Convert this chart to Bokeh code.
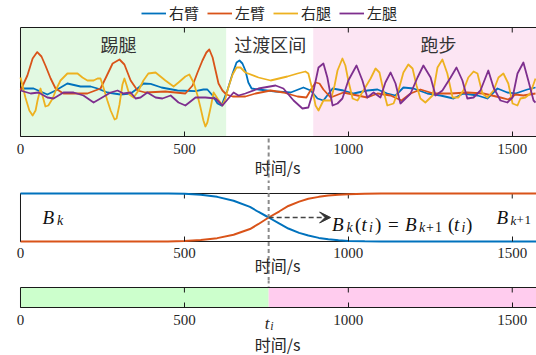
from bokeh.plotting import figure
from bokeh.models import Range1d, FixedTicker, Legend, LegendItem, Arrow, VeeHead
from bokeh.layouts import column
from bokeh.core.properties import value
from bokeh.embed import file_html
from bokeh.resources import INLINE

# ---------------- data ----------------
x_ticks = [0, 500, 1000, 1500]
x_max = 1574
t_switch = 757

series_names = ["右臂", "左臂", "右腿", "左腿"]
series_colors = ["#0072BD", "#D95319", "#EDB120", "#7E2F8E"]

right_arm_t = [0, 6, 40, 61, 82, 107, 143, 183, 214, 235, 265, 305, 336, 357, 375, 397, 430, 479, 534, 558,
               570, 586, 601, 613, 631, 647, 659, 668, 677, 686, 695, 705, 726, 778, 824, 863, 885, 906, 924,
               952, 985, 1016, 1058, 1089, 1119, 1144, 1168, 1199, 1241, 1281, 1321, 1351, 1394, 1424, 1455,
               1485, 1510, 1546, 1571]
right_arm_v = [0.09, 0.15, 0.15, 0.0, -0.15, 0.05, 0.4, 0.25, 0.25, 0.15, -0.05, -0.15, -0.1, 0.15, 0.4, 0.38,
               0.2, 0.05, 0.02, 0.1, 0.1, -0.2, -0.6, -0.7, 0.05, 0.9, 1.45, 1.55, 1.4, 1.05, 0.45, 0.15, 0.1,
               0.0, -0.05, 0.2, 0.05, -0.35, -0.45, 0.15, 0.05, -0.1, 0.05, 0.1, -0.1, -0.2, 0.2, 0.15, -0.1,
               -0.2, -0.35, -0.1, -0.2, -0.35, 0.15, -0.05, -0.1, 0.1, 0.2]

left_arm_t = [0, 21, 37, 51, 64, 76, 92, 107, 131, 204, 244, 262, 281, 302, 317, 336, 357, 381, 442, 503, 525,
              540, 555, 567, 576, 586, 595, 604, 616, 628, 647, 686, 717, 763, 802, 845, 872, 888, 900, 912,
              924, 946, 985, 1028, 1058, 1089, 1129, 1162, 1190, 1220, 1260, 1312, 1363, 1412, 1464, 1488,
              1510, 1534, 1571]
left_arm_v = [0.05, 0.8, 1.65, 1.97, 1.75, 1.3, 0.65, 0.15, -0.1, -0.1, 0.15, 0.75, 1.4, 1.6, 1.35, 0.55, 0.05,
              -0.05, 0.0, -0.1, 0.3, 0.95, 1.55, 1.95, 2.1, 1.7, 1.05, 0.4, 0.05, -0.15, -0.25, -0.25, -0.1,
              0.05, -0.05, -0.25, -0.3, 0.15, 0.45, 0.4, 0.1, -0.3, -0.05, -0.2, -0.3, -0.1, -0.2, -0.45,
              -0.1, 0.1, -0.1, -0.1, -0.05, -0.1, -0.3, -0.4, -0.15, -0.2, -0.1]

right_leg_t = [0, 15, 27, 37, 46, 52, 61, 67, 76, 85, 98, 110, 122, 143, 174, 189, 204, 223, 235, 244, 253,
               265, 275, 287, 293, 302, 311, 317, 323, 332, 345, 360, 375, 390, 412, 427, 442, 467, 482, 503,
               515, 528, 540, 549, 558, 564, 570, 580, 589, 601, 616, 625, 634, 647, 659, 671, 686, 726, 763,
               814, 845, 869, 878, 891, 900, 909, 924, 946, 958, 967, 982, 991, 1000, 1013, 1028, 1046, 1068,
               1083, 1095, 1107, 1119, 1138, 1153, 1168, 1183, 1196, 1208, 1220, 1235, 1257, 1272, 1287, 1302,
               1318, 1336, 1351, 1366, 1382, 1394, 1409, 1424, 1443, 1458, 1473, 1488, 1501, 1516, 1525, 1540,
               1555, 1571]
right_leg_v = [0.7, -0.3, -0.95, -1.2, -0.95, -0.45, 0.15, -0.2, -0.75, -0.7, -0.35, 0.15, 0.55, 0.9, 0.9, 0.7,
               0.55, 0.55, 0.65, 0.65, 0.2, -0.45, -0.95, -1.4, -1.35, -0.65, 0.35, 0.65, 0.35, -0.15, -0.3,
               0.05, 0.55, 0.9, 0.95, 0.75, 0.55, 0.25, 0.45, 0.75, 0.85, 0.45, -0.2, -0.8, -1.45, -1.75, -1.55,
               -0.8, -0.05, -0.35, -0.7, -0.35, 0.2, 0.85, 1.2, 1.2, 0.95, 0.7, 0.55, 0.75, 0.9, 1.0, 0.9, 0.05,
               -0.7, -0.95, -0.45, -0.45, 0.3, 1.05, 1.65, 1.3, 0.55, -0.35, -0.45, 0.05, 0.65, 1.15, 0.95, 0.05,
               -0.7, -0.6, 0.05, 0.95, 1.35, 1.15, 0.3, -0.35, -0.55, -0.2, 1.2, 1.6, 0.9, -0.3, -0.3, 0.05, 0.7,
               1.0, 0.9, -0.1, -0.3, 0.05, 0.7, 0.9, 0.4, -0.6, -0.7, -0.35, -0.3, -0.1, 0.65]

left_leg_t = [0, 31, 55, 82, 101, 131, 162, 192, 223, 244, 275, 296, 314, 336, 351, 366, 387, 412, 433, 458,
              482, 503, 534, 564, 595, 616, 634, 650, 665, 686, 726, 778, 802, 833, 860, 878, 894, 909, 924,
              936, 952, 967, 982, 1000, 1025, 1043, 1058, 1077, 1098, 1113, 1129, 1144, 1159, 1190, 1211, 1229,
              1251, 1266, 1287, 1312, 1330, 1348, 1363, 1382, 1403, 1427, 1443, 1464, 1485, 1501, 1516, 1534,
              1549, 1565, 1571]
left_leg_v = [0.05, -0.1, -0.05, -0.3, -0.35, -0.05, -0.05, -0.2, -0.55, -0.35, -0.05, 0.05, -0.1, -0.05, -0.35,
              -0.3, -0.05, -0.3, -0.35, -0.2, -0.55, -0.7, -0.3, -0.3, -0.35, -0.7, -0.35, -0.05, -0.2, -0.1,
              0.15, 0.3, 0.15, -0.45, -0.85, -0.8, 0.05, 1.2, 1.4, 0.7, -0.7, -0.6, -0.35, 0.55, 1.3, 0.55, -0.3,
              -0.05, -0.3, 0.45, 0.95, 0.4, -0.6, -0.1, 0.7, 1.3, 0.7, -0.2, 0.05, 0.7, 1.2, 0.55, -0.35, -0.3,
              0.05, 1.05, 0.2, -0.45, -0.55, -0.3, 0.9, 1.45, 0.55, -0.45, -0.55]

phase_names = ["踢腿", "过渡区间", "跑步"]
phase_start = [0, 628, 893]
phase_end = [628, 893, 1700]
phase_colors = ["#E2F9E2", "#FFFFFF", "#FCE5F3"]

blend_t = [0, 450, 500, 550, 600, 650, 700, 725, 757, 790, 817, 850, 878, 910, 939, 970, 1000, 1050, 1100, 1700]
bk = [1, 1, 0.995, 0.975, 0.93, 0.85, 0.72, 0.62, 0.5, 0.37, 0.27, 0.18, 0.125, 0.075, 0.045, 0.025, 0.012,
      0.004, 0, 0]
bk1 = [0, 0, 0.01, 0.03, 0.07, 0.14, 0.26, 0.36, 0.5, 0.63, 0.74, 0.83, 0.89, 0.93, 0.96, 0.975, 0.985, 0.995,
       1, 1]

seg_start = [0, t_switch]
seg_end = [t_switch, 1700]
seg_colors = ["#CCFFCC", "#FFCCEE"]

# ---------------- styling ----------------
SERIF = "Liberation Serif"
CJK = "Noto Sans CJK SC"
TXT = "#262626"
AX = "#1a1a1a"
W = 536
X_LO = -61          # left edge of canvas in time units
X_MID = 784         # centre of the axis title


def make_fig(h, y_lo, y_hi, pan_lo):
    p = figure(width=W, height=h, x_range=Range1d(X_LO, x_max), y_range=Range1d(y_lo, y_hi),
               output_backend="svg", toolbar_location=None,
               min_border_left=0, min_border_right=0, min_border_top=0, min_border_bottom=0)
    p.outline_line_color = None
    p.grid.visible = False
    p.yaxis.visible = False
    p.background_fill_color = "white"
    p.border_fill_color = "white"
    xa = p.xaxis[0]
    xa.fixed_location = pan_lo
    xa.bounds = (0, x_max)
    xa.ticker = FixedTicker(ticks=x_ticks, minor_ticks=[])
    xa.major_tick_in = 5
    xa.major_tick_out = 0
    xa.minor_tick_line_color = None
    xa.axis_line_color = None
    xa.major_tick_line_color = AX
    xa.major_label_text_font = SERIF
    xa.major_label_text_font_size = "15px"
    xa.major_label_text_color = TXT
    xa.major_label_standoff = 7
    return p


def frame_box(p, pan_lo, pan_hi, ppu):
    p.quad(left=[0], right=[1700], bottom=[pan_lo], top=[pan_hi], fill_color=None,
           line_color=AX, line_width=1)
    d = 5.0 / ppu
    p.segment(x0=x_ticks[1:], y0=[pan_hi] * 3, x1=x_ticks[1:], y1=[pan_hi - d] * 3,
              line_color=AX, line_width=1)


def axis_title(p, y):
    p.text(x=[X_MID], y=[y], text=["时间/s"], text_font=value(CJK), text_font_size="16px",
           text_color=TXT, text_align="center", text_baseline="middle")


def vdash(p, y0, y1):
    p.segment(x0=[t_switch], y0=[y0], x1=[t_switch], y1=[y1],
              line_color="#8a8a8a", line_width=2, line_dash="4 3")


def math_text(p, x, y, segs, color="#111111"):
    for txt, dx, dy, size, style in segs:
        p.text(x=[x], y=[y], text=[txt], x_offset=dx, y_offset=dy,
               text_font=value(SERIF), text_font_style=style, text_font_size=f"{size}px",
               text_color=color, text_align="left", text_baseline="alphabetic")


# ---------------- top panel ----------------
Y0, Y1 = -2.25, 3.2
p1 = make_fig(180, -4.45, 4.55, Y0)
p1.quad(left=phase_start, right=phase_end, bottom=Y0, top=Y1, fill_color=phase_colors, line_color=None)
vdash(p1, -2.35, -4.6)
frame_box(p1, Y0, Y1, 20.0)

ts = [right_arm_t, left_arm_t, right_leg_t, left_leg_t]
vs = [right_arm_v, left_arm_v, right_leg_v, left_leg_v]
items = []
for name, col, t, v in zip(series_names, series_colors, ts, vs):
    r = p1.line(t, v, line_color=col, line_width=1.8, line_join="round")
    items.append(LegendItem(label=name, renderers=[r]))

p1.text(x=[299, 762, 1275], y=[2.4] * 3, text=phase_names, text_font=value(CJK), text_font_size="18px",
        text_color="#333333", text_align="center", text_baseline="middle")

legend = Legend(items=items, orientation="horizontal", location=(141, 157),
                glyph_width=25, glyph_height=16, label_height=16, label_standoff=3, spacing=8,
                padding=0, margin=0, border_line_color=None, background_fill_alpha=0,
                label_text_font=CJK, label_text_font_size="15px", label_text_color=TXT)
p1.add_layout(legend, "center")
axis_title(p1, -3.75)

# ---------------- middle panel ----------------
p2 = make_fig(100, -0.8125, 1.2708, 0)
frame_box(p2, 0, 1, 48.0)
p2.line(blend_t, bk, line_color=series_colors[0], line_width=2)
p2.line(blend_t, bk1, line_color=series_colors[1], line_width=2)
vdash(p2, 1.3, -0.85)
p2.add_layout(Arrow(end=VeeHead(size=11, fill_color="#333333", line_color="#333333"),
                    x_start=t_switch, y_start=0.5, x_end=946, y_end=0.5,
                    line_color="#444444", line_width=1.3, line_dash="5 3"))
math_text(p2, 67, 0.5, [("B", 0, 0, 19, "italic"), ("k", 14.5, 3, 14, "italic")])
math_text(p2, 950, 0.5, [("B", 0, 7, 19, "italic"), ("k", 14.5, 10, 14, "italic"),
                         ("(", 23, 7, 19, "normal"), ("t", 29.5, 7, 19, "italic"),
                         ("i", 37, 10, 14, "italic"), (")", 43, 7, 19, "normal"),
                         ("=", 56, 7, 19, "normal"), ("B", 73, 7, 19, "italic"),
                         ("k", 87, 10, 14, "italic"), ("+", 94, 10, 14, "normal"),
                         ("1", 103, 10, 14, "normal"), ("(", 116, 7, 19, "normal"),
                         ("t", 122, 7, 19, "italic"), ("i", 129.5, 10, 14, "italic"),
                         (")", 134, 7, 19, "normal")])
math_text(p2, 1452, 0.5, [("B", 0, 0, 19, "italic"), ("k", 14, 3, 13, "italic"),
                          ("+", 20, 3, 13, "normal"), ("1", 28, 3, 13, "normal")])
axis_title(p2, -0.5)

# ---------------- bottom panel ----------------
p3 = make_fig(75, -2.4, 1.35, 0)
p3.quad(left=seg_start, right=seg_end, bottom=0, top=1, fill_color=seg_colors, line_color=None)
vdash(p3, 1.4, 1.0)
frame_box(p3, 0, 1, 20.0)
math_text(p3, t_switch, -0.785, [("t", -4, 0, 17, "italic"), ("i", 1.5, 2.5, 12, "italic")], TXT)
axis_title(p3, -1.8)

layout = column(p1, p2, p3, spacing=0)
open("out.html", "w").write(file_html(layout, INLINE))
